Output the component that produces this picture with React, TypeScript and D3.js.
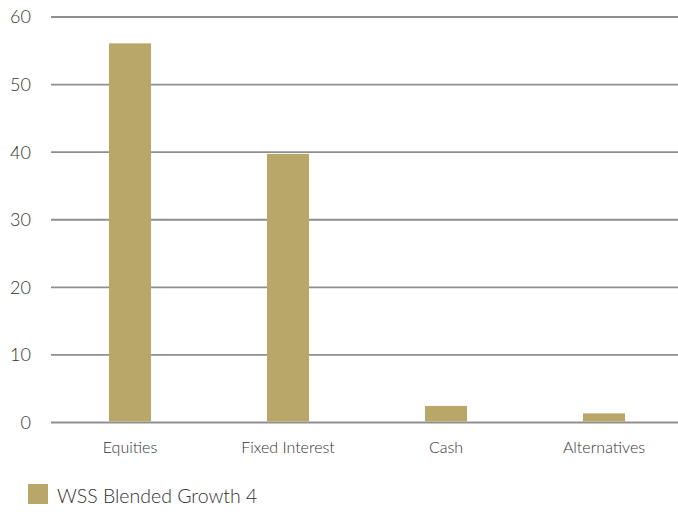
import React from "react";
import * as d3 from "d3";

const categories = ["Equities", "Fixed Interest", "Cash", "Alternatives"];
const values = [56.1, 39.75, 2.45, 1.35];
const yTicks = [0, 10, 20, 30, 40, 50, 60];
const seriesName = "WSS Blended Growth 4";

const W = 678;
const H = 512;
const FONT = "Lato, 'Open Sans', sans-serif";

export default function App() {
  const x = d3
    .scaleBand<string>()
    .domain(categories)
    .range([51, 683])
    .paddingInner(0.734)
    .paddingOuter(0.367);
  const y = d3.scaleLinear().domain([0, 60]).range([422.5, 17]);

  return (
    <svg
      width={W}
      height={H}
      style={{ position: "absolute", left: 0, top: 0, background: "#fff" }}
      fontFamily={FONT}
    >
      {yTicks.map((t) => (
        <g key={t}>
          <line
            x1={51}
            x2={683}
            y1={y(t)}
            y2={y(t)}
            stroke="#8f8f8f"
            strokeWidth={1.8}
          />
          <text
            x={31}
            y={y(t)}
            dy="0.36em"
            textAnchor="end"
            fontSize={18}
            fontWeight={300}
            fill="#333"
          >
            {t}
          </text>
        </g>
      ))}
      {categories.map((c, i) => (
        <rect
          key={c}
          x={x(c)}
          y={y(values[i])}
          width={x.bandwidth()}
          height={y(0) - y(values[i]) - 1}
          fill="#b9a76a"
        />
      ))}
      {categories.map((c) => (
        <text
          key={c}
          x={(x(c) as number) + x.bandwidth() / 2}
          y={453}
          textAnchor="middle"
          fontSize={16}
          fontWeight={300}
          fill="#333"
        >
          {c}
        </text>
      ))}
      <rect x={28} y={484} width={20} height={20} fill="#b9a76a" />
      <text x={57} y={503} fontSize={19.5} fontWeight={300} fill="#333">
        {seriesName}
      </text>
    </svg>
  );
}
